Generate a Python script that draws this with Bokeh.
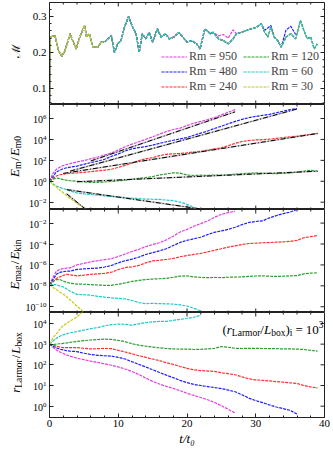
import math
from bokeh.plotting import figure
from bokeh.models import Range1d, LinearAxis, LogAxis, FixedTicker, Label, Legend, LegendItem
from bokeh.layouts import column, row
from bokeh.embed import file_html
from bokeh.resources import INLINE

# ---------------- data ----------------
rm_labels = ["Rm = 950", "Rm = 480", "Rm = 240", "Rm = 120", "Rm = 60", "Rm = 30"]
colors = ["#e040e0", "#2020ff", "#ff3030", "#2e9e2e", "#22c8c8", "#c8c820"]

# Mach number (all runs share the same turbulent driving)
mach_t = [0, 0.1, 0.8, 1.3, 1.8, 2.25, 3.0, 3.45, 3.9, 4.4, 5.1, 5.4, 5.8, 6.3, 7.05, 7.5, 8.0,
          8.5, 9.0, 9.45, 9.9, 10.4, 10.9, 11.5, 12.1, 12.6, 13.05, 13.5, 14.0, 14.5, 15.0, 15.7,
          16.2, 16.9, 17.4, 18.1, 18.8, 19.3, 20.0, 20.7, 21.4, 21.9, 22.6, 23.4, 23.8, 24.6, 25.3,
          26.0, 26.7, 27.2, 27.9, 28.6, 29.4, 30.1, 30.8, 31.3, 31.75, 32.2, 32.7, 33.2, 33.7, 34.4,
          35.1, 35.8, 36.5, 37.0, 37.5, 38.0, 38.5, 38.95]
mach_all = [0.0, 0.243, 0.247, 0.205, 0.19, 0.205, 0.252, 0.229, 0.21, 0.243, 0.275, 0.243, 0.252,
            0.215, 0.215, 0.229, 0.229, 0.238, 0.247, 0.2, 0.224, 0.233, 0.27, 0.3, 0.27, 0.252, 0.2,
            0.252, 0.238, 0.256, 0.229, 0.266, 0.243, 0.252, 0.238, 0.243, 0.256, 0.245, 0.229, 0.233,
            0.224, 0.21, 0.266, 0.252, 0.256, 0.238, 0.233, 0.224, 0.238, 0.252, 0.256, 0.261, 0.266,
            0.27, 0.28, 0.256, 0.243, 0.27, 0.243, 0.233, 0.215, 0.243, 0.252, 0.238, 0.289, 0.261,
            0.238, 0.243, 0.21, 0.224]
mach_end = [27.2, 35.8, 38.95, 38.95, 38.95, 8.0]
mach_950_patch_t = [24.6, 25.3, 26.0, 26.7]
mach_950_patch_v = [0.246, 0.25, 0.24, 0.263]
mach_480_patch_t = [31.3, 31.75, 32.2, 34.4, 35.1, 35.8]
mach_480_patch_v = [0.262, 0.268, 0.275, 0.262, 0.273, 0.25]

t_grid = [0, 0.5, 1, 1.5, 2, 2.5, 3, 4, 5, 6, 7, 8, 9, 10, 11, 12, 13, 14, 15, 16, 17, 18, 19, 20,
          21, 22, 23, 24, 25, 26, 27, 28, 29, 30, 31, 32, 33, 34, 35, 36, 37, 38, 39]

# log10(E_m / E_m0)
em_950 = [0, 0.75, 1.15, 1.35, 1.5, 1.6, 1.68, 1.85, 1.98, 2.15, 2.32, 2.5, 2.7, 3.0, 3.3, 3.55,
          3.78, 4.0, 4.25, 4.5, 4.75, 4.95, 5.08, 5.33, 5.55, 5.72, 5.9, 6.1, 6.35, 6.6, 6.86]
em_480 = [0, 0.45, 0.9, 1.05, 1.2, 1.29, 1.35, 1.45, 1.62, 1.78, 1.92, 2.1, 2.38, 2.62, 2.9, 3.1,
          3.22, 3.32, 3.45, 3.62, 3.78, 3.92, 4.05, 4.18, 4.4, 4.6, 4.8, 5.05, 5.26, 5.5, 5.72, 5.92,
          6.08, 6.2, 6.3, 6.4, 6.55, 6.7, 6.85, 6.96]
em_240 = [0, 0.3, 0.5, 0.62, 0.68, 0.72, 0.76, 0.8, 0.85, 0.92, 1.0, 1.06, 1.15, 1.32, 1.52, 1.74,
          1.98, 2.15, 2.25, 2.45, 2.58, 2.62, 2.65, 2.72, 2.8, 2.86, 2.98, 3.1, 3.2, 3.4, 3.62, 3.8,
          3.9, 3.95, 3.98, 4.02, 4.1, 4.18, 4.25, 4.31, 4.4, 4.5, 4.57]
em_120 = [0, 0.2, 0.3, 0.25, 0.16, 0.1, 0.05, 0.0, -0.05, -0.1, -0.1, -0.07, -0.02, 0.05, 0.1, 0.2,
          0.28, 0.35, 0.45, 0.6, 0.7, 0.8, 0.78, 0.6, 0.55, 0.58, 0.56, 0.6, 0.58, 0.62, 0.68, 0.73,
          0.76, 0.8, 0.78, 0.75, 0.73, 0.76, 0.8, 0.86, 0.98, 1.05, 0.96]
em_60 = [0, -0.25, -0.45, -0.58, -0.7, -0.8, -0.92, -1.12, -1.2, -1.27, -1.32, -1.4, -1.45, -1.5,
         -1.57, -1.62, -1.65, -1.7, -1.72, -1.74, -1.8, -1.85, -2.0, -2.2, -2.5, -2.8]
em_30 = [0, -0.3, -0.55, -0.85, -1.1, -1.4, -1.65, -2.1, -2.55, -3.0]

# exponential fits (log10 values at start / end)
fit_t0 = [6, 3, 2, 4, 2.5, 2.5]
fit_t1 = [27, 36, 39, 39, 22, 5.5]
fit_y0 = [1.94, 0.97, 0.75, -0.05, -0.8, -1.2]
fit_y1 = [6.64, 6.91, 4.57, 0.96, -2.65, -2.8]

# log10(E_mag / E_kin)
emag_950 = [-7.9, -7.2, -6.6, -6.43, -6.35, -6.3, -6.28, -6.0, -5.85, -5.7, -5.6, -5.5, -5.4, -5.2,
            -4.95, -4.72, -4.5, -4.25, -4.05, -3.88, -3.6, -3.25, -2.85, -2.6, -2.3, -2.05, -1.8,
            -1.45, -1.16, -1.0, -0.86]
emag_480 = [-7.9, -7.4, -6.9, -6.72, -6.65, -6.6, -6.59, -6.43, -6.38, -6.34, -6.3, -6.2, -6.05,
            -5.8, -5.6, -5.45, -5.25, -5.0, -4.82, -4.65, -4.45, -4.15, -3.85, -3.65, -3.5, -3.35,
            -3.1, -2.88, -2.75, -2.6, -2.4, -2.15, -1.94, -1.85, -1.78, -1.5, -1.28, -1.1, -0.95, -0.7]
emag_240 = [-7.9, -7.6, -7.3, -7.15, -7.0, -6.9, -6.95, -7.05, -6.98, -6.9, -6.85, -6.8, -6.7, -6.45,
            -6.25, -6.18, -6.05, -5.8, -5.62, -5.55, -5.48, -5.38, -5.22, -5.1, -5.0, -4.9, -4.75,
            -4.6, -4.45, -4.3, -4.18, -4.05, -3.95, -3.92, -3.88, -3.86, -3.82, -3.8, -3.75, -3.65,
            -3.4, -3.3, -3.18]
emag_120 = [-7.9, -7.6, -7.4, -7.4, -7.55, -7.67, -7.75, -7.83, -7.85, -7.89, -7.92, -7.95, -7.95,
            -7.85, -7.72, -7.58, -7.48, -7.4, -7.35, -7.32, -7.28, -7.18, -7.07, -7.05, -7.15, -7.2,
            -7.22, -7.2, -7.21, -7.18, -7.16, -7.15, -7.1, -7.06, -7.05, -7.08, -7.1, -7.08, -7.05,
            -7.02, -6.85, -6.78, -6.76]
emag_60 = [-7.9, -7.85, -7.9, -8.0, -8.1, -8.3, -8.5, -8.82, -8.85, -8.9, -9.0, -9.08, -9.15, -9.2,
           -9.25, -9.4, -9.6, -9.7, -9.68, -9.7, -9.72, -9.75, -9.82, -9.93, -10.15, -10.4]
emag_30 = [-7.9, -8.15, -8.35, -8.6, -8.8, -9.05, -9.35, -9.95, -10.5]

# log10(r_Larmor / L_box)
rl_950 = [3, 2.85, 2.72, 2.62, 2.55, 2.48, 2.42, 2.32, 2.25, 2.18, 2.12, 2.05, 1.98, 1.9, 1.8, 1.68,
          1.53, 1.36, 1.2, 1.07, 0.96, 0.86, 0.75, 0.62, 0.52, 0.42, 0.31, 0.18, 0.02, -0.15, -0.33]
rl_480 = [3, 2.9, 2.82, 2.76, 2.72, 2.68, 2.66, 2.64, 2.56, 2.5, 2.46, 2.44, 2.42, 2.36, 2.28, 2.15,
          2.02, 1.9, 1.76, 1.63, 1.5, 1.38, 1.25, 1.14, 1.05, 1.0, 0.95, 0.9, 0.85, 0.78, 0.7, 0.55,
          0.39, 0.27, 0.17, 0.06, -0.04, -0.12, -0.2, -0.38]
rl_240 = [3, 2.95, 2.9, 2.86, 2.83, 2.83, 2.83, 2.83, 2.8, 2.77, 2.78, 2.8, 2.78, 2.7, 2.62, 2.53,
          2.44, 2.36, 2.28, 2.2, 2.1, 2.02, 1.92, 1.83, 1.76, 1.72, 1.7, 1.68, 1.62, 1.57, 1.52,
          1.42, 1.32, 1.27, 1.25, 1.22, 1.19, 1.16, 1.13, 1.1, 1.0, 0.93, 0.88]
rl_120 = [3, 2.98, 3.0, 3.02, 3.04, 3.06, 3.09, 3.13, 3.17, 3.2, 3.22, 3.24, 3.23, 3.18, 3.12, 3.02,
          2.95, 2.9, 2.86, 2.82, 2.79, 2.77, 2.76, 2.76, 2.74, 2.75, 2.77, 2.8, 2.88, 2.85, 2.8,
          2.79, 2.8, 2.8, 2.79, 2.78, 2.78, 2.77, 2.77, 2.76, 2.74, 2.7, 2.66]
rl_60 = [3, 3.15, 3.28, 3.38, 3.45, 3.5, 3.55, 3.61, 3.68, 3.75, 3.8, 3.88, 3.94, 3.97, 3.96, 3.92,
         3.98, 4.04, 4.08, 4.1, 4.1, 4.15, 4.2, 4.24, 4.3, 4.4]
rl_30 = [3, 3.3, 3.5, 3.72, 3.9, 4.0, 4.12, 4.32, 4.62]

x_major = [0, 10, 20, 30, 40]
x_minor = [2, 4, 6, 8, 12, 14, 16, 18, 22, 24, 26, 28, 32, 34, 36, 38]
mach_major = [0.1, 0.2, 0.3]
mach_minor = [0.06, 0.08, 0.12, 0.14, 0.16, 0.18, 0.22, 0.24, 0.26, 0.28, 0.32]
em_ticks = [1e-2, 1e0, 1e2, 1e4, 1e6]
emag_ticks = [1e-10, 1e-8, 1e-6, 1e-4, 1e-2]
rl_ticks = [1e0, 1e1, 1e2, 1e3, 1e4]

# ---------------- helpers ----------------
SERIF = "Liberation Serif"
AXC = "#222222"
LAB_W = 22          # strip holding the y-axis titles
BORDER_L = 24
MAIN_W = BORDER_L + 278 + 6
H1, H2, H3, H4 = 104, 105, 103, 136
TOTAL_H = H1 + H2 + H3 + H4
ROMAN_W = {'a': 444, 'b': 500, 'g': 500, 'i': 278, 'k': 500, 'm': 778, 'n': 500, 'o': 500,
           'r': 333, 'x': 500, 'L': 611, '0': 500, '1': 500, '3': 500, '=': 564, '(': 333,
           ')': 333, '/': 278}
ITALIC_W = {'E': 611, 'r': 389, 'L': 556, 't': 278, 'ℳ': 900}
MAIN, SMALL = 13, 9.5


def piece_width(text, style):
    if style == "gap":
        return float(text)
    size = MAIN if style in ("it", "rm", "sym") else SMALL
    tbl = ITALIC_W if style in ("it", "sym") else ROMAN_W
    return sum(tbl.get(c, 500) for c in text) * size / 1000.0


def rich(p, pieces, x, y, vertical, align="center"):
    total = sum(piece_width(t, s) for t, s in pieces)
    base = y if vertical else x
    pos = base - total / 2 if align == "center" else (base - total if align == "right" else base)
    for text, style in pieces:
        w = piece_width(text, style)
        if style != "gap":
            size = MAIN if style in ("it", "rm", "sym") else SMALL
            shift = {"sub": -3.0, "sup": 5.0}.get(style, 0.0)
            if vertical:
                lx, ly, ang = x - shift, pos, math.pi / 2
            else:
                lx, ly, ang = pos, y + shift, 0
            font = "DejaVu Serif" if style == "sym" else SERIF
            p.add_layout(Label(x=lx, y=ly, x_units="screen", y_units="screen", text=text,
                               angle=ang, text_font=font,
                               text_font_size=f"{12 if style == 'sym' else size}px",
                               text_font_style="italic" if style == "it" else "normal",
                               text_color="black", text_baseline="alphabetic", text_align="left"))
        pos += w


def style_axis(ax, major, minor, size):
    ax.ticker = FixedTicker(ticks=major, minor_ticks=minor)
    ax.major_tick_in = 4
    ax.major_tick_out = 0
    ax.minor_tick_in = 2
    ax.minor_tick_out = 0
    ax.axis_line_color = AXC
    ax.major_tick_line_color = AXC
    ax.minor_tick_line_color = AXC
    ax.major_label_text_font = SERIF
    ax.major_label_text_font_size = size
    ax.major_label_text_color = "black"
    ax.major_label_standoff = 3


def edge_ticks(p, yr, ymajor, yminor, bottom):
    # tick marks on the unlabeled sides of the frame (pointing inward)
    y0, y1 = yr
    for ticks, ln in ((ymajor, 4), (yminor, 2)):
        if ticks:
            p.ray(x=[40] * len(ticks), y=ticks, length=ln, length_units="screen", angle=math.pi,
                  line_color=AXC, line_width=1)
    for ticks, ln in ((x_major, 4), (x_minor, 2)):
        p.ray(x=ticks, y=[y1] * len(ticks), length=ln, length_units="screen", angle=-math.pi / 2,
              line_color=AXC, line_width=1)
        if bottom:
            p.ray(x=ticks, y=[y0] * len(ticks), length=ln, length_units="screen",
                  angle=math.pi / 2, line_color=AXC, line_width=1)


def make_fig(height, yr, ytype, ymajor, yminor, top=0, bottom_labels=False):
    p = figure(width=MAIN_W, height=height, x_range=Range1d(0, 40), y_range=Range1d(*yr),
               y_axis_type=ytype, x_axis_location=None, y_axis_location=None,
               output_backend="svg", toolbar_location=None, min_border_left=BORDER_L,
               min_border_right=6, min_border_top=top,
               min_border_bottom=31 if bottom_labels else 0)
    p.xgrid.visible = False
    p.ygrid.visible = False
    p.outline_line_color = AXC
    p.outline_line_width = 1
    ax = LogAxis() if ytype == "log" else LinearAxis()
    style_axis(ax, ymajor, yminor, "10px" if ytype == "log" else "11px")
    p.add_layout(ax, "left")
    if bottom_labels:
        bx = LinearAxis(axis_label="t/t₀")
        style_axis(bx, x_major, x_minor, "11px")
        bx.major_label_standoff = 2
        bx.axis_label_standoff = 1
        bx.axis_label_text_font = SERIF
        bx.axis_label_text_font_size = "13px"
        bx.axis_label_text_font_style = "italic"
        bx.axis_label_text_color = "black"
        p.add_layout(bx, "below")
    edge_ticks(p, yr, ymajor, yminor, not bottom_labels)
    return p


def blank_fig(w, h):
    f = figure(width=w, height=h, x_range=Range1d(0, 1), y_range=Range1d(0, 1),
               x_axis_location=None, y_axis_location=None, output_backend="svg",
               toolbar_location=None, min_border=0)
    f.xgrid.visible = False
    f.ygrid.visible = False
    f.outline_line_color = None
    return f


def line(p, t, v, color, log=True):
    ys = [10 ** a for a in v] if log else v
    return p.line(t, ys, line_color=color, line_width=1.2, line_dash="3 1")


# ---------------- panel 1: Mach number ----------------
p1 = make_fig(H1, (0.0556, 0.3389), "linear", mach_major, mach_minor, top=2)
patches = {0: dict(zip(mach_950_patch_t, mach_950_patch_v)),
           1: dict(zip(mach_480_patch_t, mach_480_patch_v))}
rends = []
for i, c in enumerate(colors):
    ts, vs = [], []
    for t, v in zip(mach_t, mach_all):
        if t <= mach_end[i]:
            ts.append(t)
            vs.append(patches.get(i, {}).get(t, v))
    rends.append(line(p1, ts, vs, c, log=False))

leg_kw = dict(orientation="vertical", padding=0, margin=0, spacing=0, label_height=13,
              glyph_height=13, glyph_width=26, label_standoff=2, label_text_font=SERIF,
              label_text_font_size="12px", background_fill_alpha=0, border_line_alpha=0)
leg_a = Legend(items=[LegendItem(label=rm_labels[i], renderers=[rends[i]]) for i in range(3)],
               location=(112, 10), **leg_kw)
leg_b = Legend(items=[LegendItem(label=rm_labels[i], renderers=[rends[i]]) for i in range(3, 6)],
               location=(194, 10), **leg_kw)
p1.add_layout(leg_a)
p1.add_layout(leg_b)

# ---------------- panel 2: E_m / E_m0 ----------------
p2 = make_fig(H2, (10 ** -2.70, 10 ** 7.34), "log", em_ticks, [])
for v, c in zip([em_950, em_480, em_240, em_120, em_60, em_30], colors):
    line(p2, t_grid[:len(v)], v, c)
for a, b, ya, yb in zip(fit_t0, fit_t1, fit_y0, fit_y1):
    p2.line([a, b], [10 ** ya, 10 ** yb], line_color="#888888", line_width=1.6, line_alpha=0.5)
    p2.line([a, b], [10 ** ya, 10 ** yb], line_color="black", line_width=1.0,
            line_dash="5 2 1 2")

# ---------------- panel 3: E_mag / E_kin ----------------
p3 = make_fig(H3, (10 ** -10.55, 10 ** -0.70), "log", emag_ticks, [])
for v, c in zip([emag_950, emag_480, emag_240, emag_120, emag_60, emag_30], colors):
    line(p3, t_grid[:len(v)], v, c)

# ---------------- panel 4: r_Larmor / L_box ----------------
p4 = make_fig(H4, (10 ** -0.547, 10 ** 4.53), "log", rl_ticks, [], bottom_labels=True)
for v, c in zip([rl_950, rl_480, rl_240, rl_120, rl_60, rl_30], colors):
    line(p4, t_grid[:len(v)], v, c)
rich(p4, [("(", "rm"), ("r", "it"), ("Larmor", "sub"), ("/", "rm"), ("L", "it"), ("box", "sub"),
          (")", "rm"), ("i", "sub"), ("3", "gap"), ("=", "rm"), ("3", "gap"), ("10", "rm"),
          ("3", "sup")], 274, 88, False, align="right")

# ---------------- y-axis titles ----------------
ylab = blank_fig(LAB_W, TOTAL_H)
rich(ylab, [("ℳ", "sym")], 15, TOTAL_H - 52, True)
rich(ylab, [("E", "it"), ("m", "sub"), ("1", "gap"), ("/", "rm"), ("1", "gap"), ("E", "it"),
            ("m0", "sub")], 14, TOTAL_H - 156, True)
rich(ylab, [("E", "it"), ("mag", "sub"), ("1", "gap"), ("/", "rm"), ("1", "gap"), ("E", "it"),
            ("kin", "sub")], 14, TOTAL_H - 264, True)
rich(ylab, [("r", "it"), ("Larmor", "sub"), ("1", "gap"), ("/", "rm"), ("1", "gap"), ("L", "it"),
            ("box", "sub")], 15, TOTAL_H - 362, True)

layout = row(ylab, column(p1, p2, p3, p4, spacing=0), spacing=0)
open("out.html", "w").write(file_html(layout, INLINE))
